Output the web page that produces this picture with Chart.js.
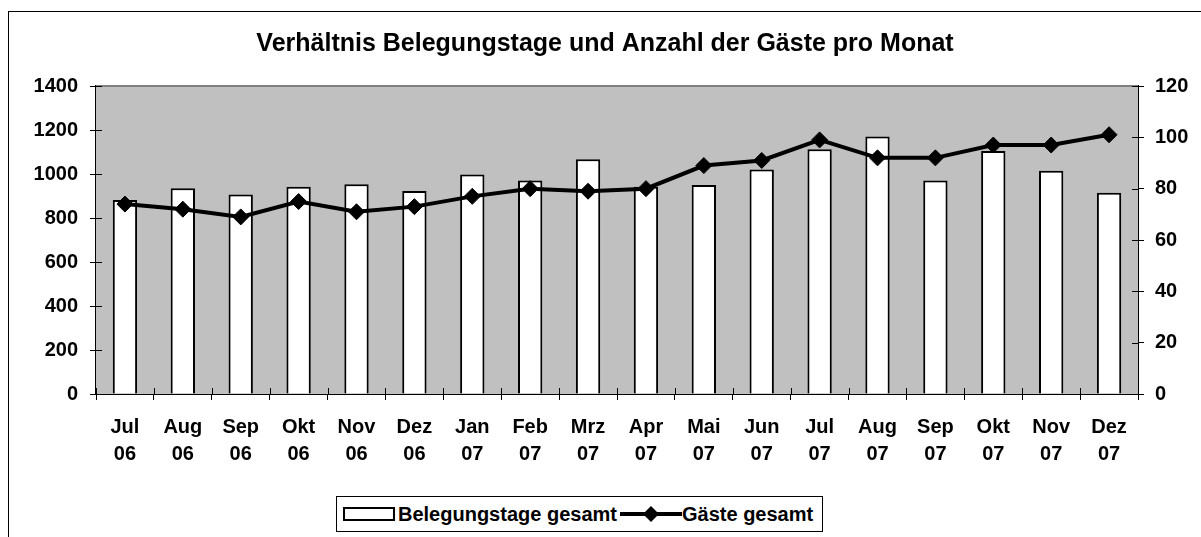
<!DOCTYPE html>
<html>
<head>
<meta charset="utf-8">
<script src="https://cdn.jsdelivr.net/npm/chart.js@4/dist/chart.umd.min.js"></script>
<style>
  body { margin: 0; background: #fff; font-family: "Liberation Sans", Arial, sans-serif; }
  #rahmen { position: absolute; left: 8px; top: 11px; width: 1300px; height: 600px;
            border-left: 1px solid #000; border-top: 1px solid #000; }
  #grafik { position: absolute; left: 0; top: 0; }
  #legende { position: absolute; left: 327px; top: 484px; width: 485px; height: 34px;
             border: 1px solid #000; background: #fff; font-weight: bold; font-size: 20px; }
  #legende .item { position: absolute; top: 0; height: 34px; line-height: 34px; white-space: nowrap; }
  #legende .balken { position: absolute; left: 6px; top: 10px; width: 48px; height: 10px;
                     border: 2px solid #000; background: #fff; }
</style>
</head>
<body>
<div id="rahmen">
  <canvas id="grafik" width="1192" height="525"></canvas>
  <div id="legende">
    <span class="balken"></span>
    <span class="item" style="left:61px">Belegungstage gesamt</span>
    <svg style="position:absolute;left:283px;top:7px" width="62" height="20">
      <line x1="0" y1="10" x2="62" y2="10" stroke="#000" stroke-width="4"/>
      <polygon points="31,2 39,10 31,18 23,10" fill="#000"/>
    </svg>
    <span class="item" style="left:345px">Gäste gesamt</span>
  </div>
</div>
<script>
const monate = ["Jul", "Aug", "Sep", "Okt", "Nov", "Dez", "Jan", "Feb", "Mrz", "Apr", "Mai", "Jun", "Jul", "Aug", "Sep", "Okt", "Nov", "Dez"];
const jahre = ["06", "06", "06", "06", "06", "06", "07", "07", "07", "07", "07", "07", "07", "07", "07", "07", "07", "07"];
const belegungstage = [882, 935, 907, 942, 953, 923, 998, 970, 1067, 942, 950, 1021, 1112, 1170, 970, 1105, 1015, 915];
const gaeste = [74, 72, 69, 75, 71, 73, 77, 80, 79, 80, 89, 91, 99, 92, 92, 97, 97, 101];

const beschriftungen = monate.map((m, i) => [m, jahre[i]]);

const schrift = { family: "'Liberation Sans', Arial, sans-serif", size: 20, weight: "bold" };

// grauer Hintergrund, obere Linie und nach innen ragende Teilstriche
const plotFlaeche = {
  id: "plotFlaeche",
  beforeDatasetsDraw(chart) {
    const { ctx, chartArea: a, scales } = chart;
    ctx.save();
    ctx.fillStyle = "#c0c0c0";
    ctx.fillRect(a.left, a.top, a.right - a.left, a.bottom - a.top);
    ctx.strokeStyle = "#808080";
    ctx.lineWidth = 2;
    ctx.beginPath();
    ctx.moveTo(a.left, a.top);
    ctx.lineTo(a.right, a.top);
    ctx.stroke();
    ctx.strokeStyle = "#000";
    ctx.lineWidth = 1;
    ctx.beginPath();
    scales.y.ticks.forEach((t, i) => {
      const y = Math.round(scales.y.getPixelForTick(i)) + 0.5;
      ctx.moveTo(a.left, y);
      ctx.lineTo(a.left + 6, y);
    });
    scales.y2.ticks.forEach((t, i) => {
      const y = Math.round(scales.y2.getPixelForTick(i)) + 0.5;
      ctx.moveTo(a.right, y);
      ctx.lineTo(a.right - 6, y);
    });
    for (let i = 0; i <= monate.length; i++) {
      const x = Math.round(a.left + (a.right - a.left) * i / monate.length) + 0.5;
      ctx.moveTo(x, a.bottom);
      ctx.lineTo(x, a.bottom - 6);
    }
    ctx.stroke();
    ctx.restore();
  }
};

const grafik = new Chart(document.getElementById("grafik"), {
  type: "bar",
  data: {
    labels: beschriftungen,
    datasets: [
      {
        type: "line",
        label: "Gäste gesamt",
        data: gaeste,
        yAxisID: "y2",
        borderColor: "#000",
        borderWidth: 4,
        backgroundColor: "#000",
        pointStyle: "rectRot",
        pointRadius: 8,
        pointBorderWidth: 1,
        pointBackgroundColor: "#000",
        tension: 0,
        order: 0,
      },
      {
        label: "Belegungstage gesamt",
        data: belegungstage,
        yAxisID: "y",
        backgroundColor: "#fff",
        borderColor: "#000",
        borderWidth: 2,
        barPercentage: 0.42,
        categoryPercentage: 1,
        order: 1,
      },
    ],
  },
  options: {
    responsive: false,
    animation: false,
    devicePixelRatio: 1,
    layout: { padding: 0 },
    plugins: {
      legend: { display: false },
      tooltip: { enabled: false },
      title: {
        display: true,
        text: "Verhältnis Belegungstage und Anzahl der Gäste pro Monat",
        color: "#000",
        font: { family: schrift.family, size: 25, weight: "bold", lineHeight: 1.2 },
        padding: { top: 17, bottom: 27 },
      },
    },
    scales: {
      x: {
        afterFit: (s) => { s.height = 143; },
        grid: { drawOnChartArea: false, tickLength: 6, color: "#000", offset: true },
        border: { color: "#000", width: 2 },
        ticks: { color: "#000", font: { ...schrift, lineHeight: 1.35 }, padding: 14, maxRotation: 0, autoSkip: false },
      },
      y: {
        position: "left",
        min: 0,
        max: 1400,
        afterFit: (s) => { s.width = 87; },
        grid: { drawOnChartArea: false, tickLength: 6, color: "#000" },
        border: { color: "#000", width: 2 },
        ticks: { stepSize: 200, color: "#000", font: schrift, padding: 12, callback: (v) => String(v) },
      },
      y2: {
        position: "right",
        min: 0,
        max: 120,
        afterFit: (s) => { s.width = 63; },
        grid: { drawOnChartArea: false, tickLength: 6, color: "#000" },
        border: { color: "#000", width: 2 },
        ticks: { stepSize: 20, color: "#000", font: schrift, padding: 11, callback: (v) => String(v) },
      },
    },
  },
  plugins: [plotFlaeche],
});
</script>
</body>
</html>
